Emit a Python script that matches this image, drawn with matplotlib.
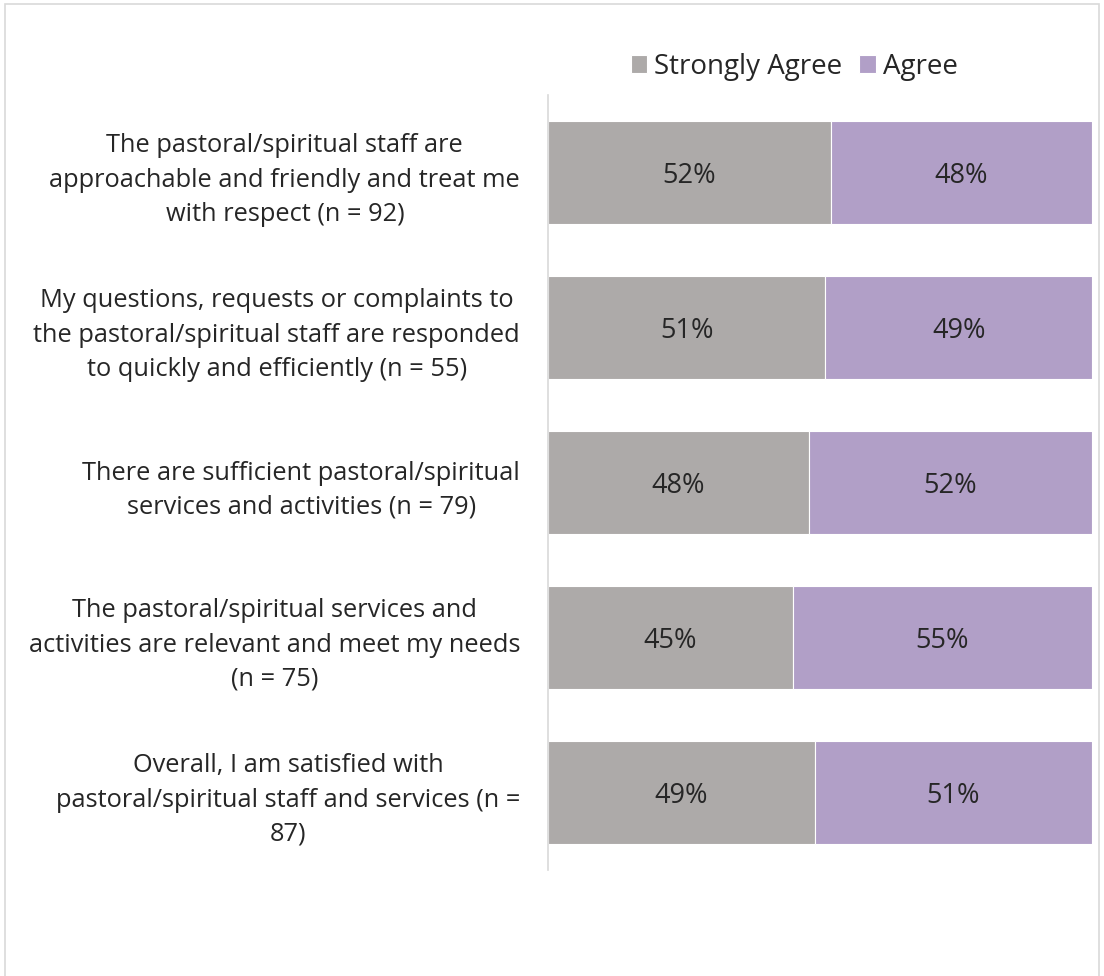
import matplotlib.pyplot as plt
from matplotlib.patches import Rectangle

# Survey statements (top to bottom)
statements = [
    'The pastoral/spiritual staff are\napproachable and friendly and treat me\nwith respect (n = 92)',
    'My questions, requests or complaints to\nthe pastoral/spiritual staff are responded\nto quickly and efficiently (n = 55)',
    'There are sufficient pastoral/spiritual\nservices and activities (n = 79)',
    'The pastoral/spiritual services and\nactivities are relevant and meet my needs\n(n = 75)',
    'Overall, I am satisfied with\npastoral/spiritual staff and services (n =\n87)',
]
strongly_agree = [52, 51, 48, 45, 49]
agree = [48, 49, 52, 55, 51]

gray = '#ADAAA9'
purple = '#B19FC7'
text_col = '#262626'

plt.rcParams['font.family'] = ['Open Sans', 'DejaVu Sans']

fig = plt.figure(figsize=(11.04, 9.76), dpi=100)
ax = fig.add_axes([548 / 1104, 1 - 870 / 976, 544 / 1104, 775 / 976])

ypos = list(range(len(statements)))
b1 = ax.barh(ypos, strongly_agree, height=0.665, color=gray, edgecolor='white', linewidth=0.8, label='Strongly Agree')
b2 = ax.barh(ypos, agree, left=strongly_agree, height=0.665, color=purple, edgecolor='white', linewidth=0.8, label='Agree')

# Percentage labels centred in each segment
for i in ypos:
    ax.text(strongly_agree[i] / 2, i + 0.02, f'{strongly_agree[i]}%', ha='center', va='center', fontsize=19.5, color=text_col)
    ax.text(strongly_agree[i] + agree[i] / 2, i + 0.02, f'{agree[i]}%', ha='center', va='center', fontsize=19.5, color=text_col)

ax.set_xlim(0, 100)
ax.set_ylim(len(statements) - 0.5, -0.5)
ax.set_yticks(ypos)
ax.set_yticklabels(statements, fontsize=18.3, color=text_col, linespacing=1.48)
for lab in ax.get_yticklabels():
    lab.set_multialignment('center')
ax.tick_params(axis='y', length=0, pad=20)
ax.set_xticks([])

for s in ['top', 'right', 'bottom']:
    ax.spines[s].set_visible(False)
ax.spines['left'].set_color('#D9D9D9')
ax.spines['left'].set_linewidth(1.2)

leg = fig.legend(handles=[b1, b2], loc='center', bbox_to_anchor=(794 / 1104, 1 - 67 / 976),
                 ncol=2, frameon=False, fontsize=20, handlelength=0.6, handleheight=0.6,
                 handletextpad=0.25, columnspacing=0.6)
for t in leg.get_texts():
    t.set_color(text_col)

# Light outer chart border
fig.patches.append(Rectangle((5 / 1104, -0.05), 1094 / 1104, 1.05 - 4 / 976, transform=fig.transFigure,
                             fill=False, edgecolor='#D9D9D9', linewidth=1.2))

plt.savefig('out.png', dpi=100)
